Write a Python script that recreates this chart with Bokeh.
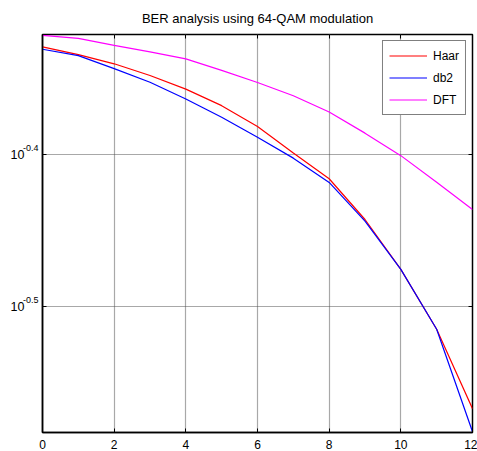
from bokeh.plotting import figure
from bokeh.models import (Range1d, FixedTicker, LinearAxis, LogAxis, CustomJSTickFormatter)
from bokeh.embed import file_html
from bokeh.resources import INLINE

snr = [0, 1, 2, 3, 4, 5, 6, 7, 8, 9, 10, 11, 12]
ber_haar = [0.4690, 0.4635, 0.4571, 0.4491, 0.4399, 0.4290, 0.4157, 0.3993, 0.3840,
            0.3610, 0.3347, 0.3057, 0.2710]
ber_db2 = [0.4673, 0.4628, 0.4538, 0.4445, 0.4334, 0.4215, 0.4089, 0.3962, 0.3819,
           0.3601, 0.3347, 0.3057, 0.2617]
ber_dft = [0.4772, 0.4750, 0.4700, 0.4654, 0.4605, 0.4526, 0.4443, 0.4355, 0.4249,
           0.4115, 0.3977, 0.3820, 0.3665]
x_ticks = [0, 2, 4, 6, 8, 10, 12]
y_tick_exponents = [-0.4, -0.5]
y_ticks = [10 ** e for e in y_tick_exponents]
y_lo, y_hi = 10 ** -0.5827, 10 ** -0.3207

FONT = "Liberation Sans"
SUP_SHIFT = 0.0047  # superscript raise, in decades (about 7 px)

p = figure(width=477, height=451, output_backend="svg", toolbar_location=None,
           y_axis_type="log", x_range=Range1d(0, 12), y_range=Range1d(y_lo, y_hi),
           min_border_left=42, min_border_right=5, min_border_top=33, min_border_bottom=19)
p.title.text = "BER analysis using 64-QAM modulation"
p.title.align = "center"
p.title.text_font = FONT
p.title.text_font_size = "13px"
p.title.text_font_style = "normal"
p.title.text_color = "black"
p.title.standoff = 17

p.outline_line_color = "black"
p.outline_line_width = 1.5

xa = p.xaxis[0]
xa.ticker = FixedTicker(ticks=x_ticks)
xa.minor_tick_line_color = None
xa.major_tick_out = 0
xa.major_tick_in = 4
xa.axis_line_width = 1.5
xa.major_label_text_font = FONT
xa.major_label_text_font_size = "12px"
xa.major_label_text_color = "black"
xa.major_label_standoff = 7

# main y axis: line + inward ticks, no labels
ya = p.yaxis[0]
ya.ticker = FixedTicker(ticks=y_ticks)
ya.minor_tick_line_color = None
ya.major_tick_out = 0
ya.major_tick_in = 4
ya.axis_line_width = 1.5
ya.formatter = CustomJSTickFormatter(code="return ''")
ya.major_label_standoff = 0
ya.axis_label_standoff = 0

# exponent (superscript) labels
ya_exp = LogAxis(ticker=FixedTicker(ticks=[t * 10 ** SUP_SHIFT for t in y_ticks]),
                 formatter=CustomJSTickFormatter(args=dict(shift=SUP_SHIFT),
                                                 code="return (Math.log10(tick) - shift).toFixed(1)"),
                 major_tick_out=0, major_tick_in=0, major_tick_line_color=None,
                 minor_tick_line_color=None, axis_line_color=None,
                 major_label_text_font=FONT, major_label_text_font_size="9px",
                 major_label_text_color="black", major_label_standoff=4,
                 axis_label_standoff=0)
p.add_layout(ya_exp, "left")

# base "10" labels
ya_base = LogAxis(ticker=FixedTicker(ticks=y_ticks), formatter=CustomJSTickFormatter(code="return '10'"),
                  major_tick_out=0, major_tick_in=0, major_tick_line_color=None,
                  minor_tick_line_color=None, axis_line_color=None,
                  major_label_text_font=FONT, major_label_text_font_size="12.5px",
                  major_label_text_color="black", major_label_standoff=-5,
                  axis_label_standoff=0)
p.add_layout(ya_base, "left")

top = LinearAxis(ticker=FixedTicker(ticks=x_ticks), formatter=CustomJSTickFormatter(code="return ''"),
                 major_tick_out=0, major_tick_in=4, minor_tick_line_color=None,
                 major_label_standoff=0, axis_line_color=None)
right = LogAxis(ticker=FixedTicker(ticks=y_ticks), formatter=CustomJSTickFormatter(code="return ''"),
                major_tick_out=0, major_tick_in=4, minor_tick_line_color=None,
                major_label_standoff=0, axis_line_color=None)
p.add_layout(top, "above")
p.add_layout(right, "right")

p.xgrid.ticker = FixedTicker(ticks=x_ticks)
p.xgrid.grid_line_color = "#a8a8a8"
p.xgrid.grid_line_width = 1.2
p.ygrid.ticker = FixedTicker(ticks=y_ticks)
p.ygrid.grid_line_color = "#505050"
p.ygrid.grid_line_dash = "1 1"
p.ygrid.grid_line_width = 1

p.line(snr, ber_haar, line_color="#ff0000", line_width=1.2, legend_label="Haar")
p.line(snr, ber_db2, line_color="#0000ff", line_width=1.2, legend_label="db2")
p.line(snr, ber_dft, line_color="#ff00ff", line_width=1.2, legend_label="DFT")

lg = p.legend[0]
lg.location = "top_right"
lg.margin = 6
lg.padding = 6
lg.spacing = 5
lg.glyph_width = 38
lg.glyph_height = 17
lg.label_standoff = 6
lg.label_text_font = FONT
lg.label_text_font_size = "12px"
lg.label_text_color = "black"
lg.border_line_color = "black"
lg.border_line_width = 1
lg.background_fill_alpha = 1

open("out.html", "w").write(file_html(p, INLINE))
